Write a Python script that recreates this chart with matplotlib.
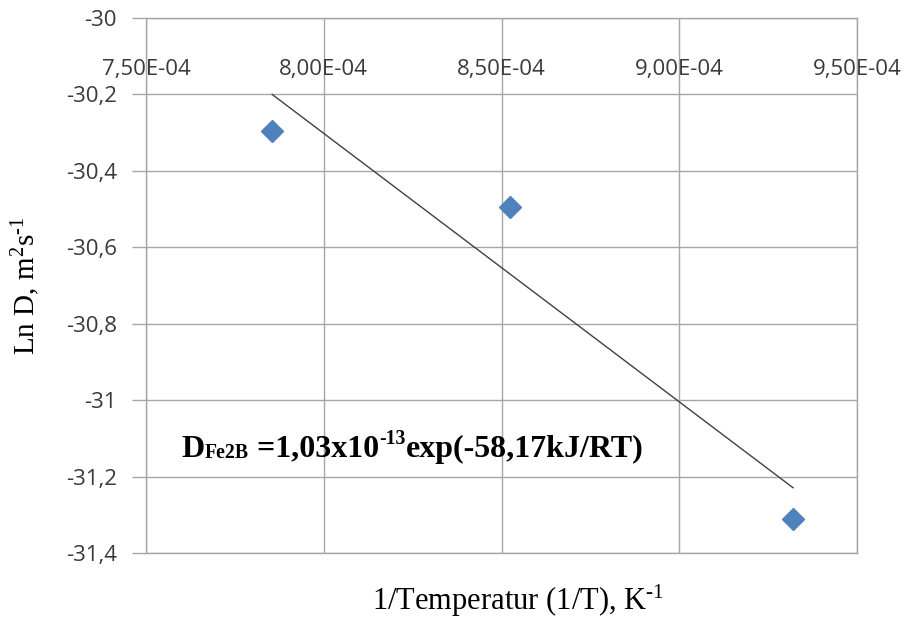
import numpy as np
import matplotlib
matplotlib.use("Agg")
import matplotlib.pyplot as plt
from matplotlib.ticker import FuncFormatter
from matplotlib.transforms import offset_copy

# data
inv_T = [7.855e-4, 8.525e-4, 9.320e-4]
ln_D = [-30.296, -30.494, -31.31]
x_ticks = [7.5e-4, 8.0e-4, 8.5e-4, 9.0e-4, 9.5e-4]
y_ticks = [-30.0, -30.2, -30.4, -30.6, -30.8, -31.0, -31.2, -31.4]
# annotation pieces: (text, relative size, baseline shift in points)
annot_parts = [("D", 1.0, 0), ("Fe2B", 0.62, -1), (" =1,03x10", 1.0, 0),
               ("-13", 0.62, 9), ("exp(-58,17kJ/RT)", 1.0, 0)]

plt.rcParams["mathtext.fontset"] = "custom"
plt.rcParams["mathtext.rm"] = "Liberation Serif"
plt.rcParams["mathtext.it"] = "Liberation Serif:italic"
plt.rcParams["mathtext.bf"] = "Liberation Serif:bold"

fig = plt.figure(figsize=(9.12, 6.22), dpi=100)
ax = fig.add_axes([146/912, 1-553/622, (857-146)/912, (553-18)/622])

grid_c = "#A6A6A6"
ax.set_xlim(7.5e-4, 9.5e-4)
ax.set_ylim(-31.4, -30.0)
ax.set_xticks(x_ticks)
ax.set_yticks(y_ticks)
ax.grid(True, color=grid_c, lw=1.0)
ax.set_axisbelow(True)
for s in ax.spines.values():
    s.set_color(grid_c)
    s.set_linewidth(1.0)

# fit line
coef = np.polyfit(inv_T, ln_D, 1)
xf = np.array([min(inv_T), max(inv_T)])
ax.plot(xf, np.polyval(coef, xf), color="#404040", lw=1.0, zorder=3)
ax.plot(inv_T, ln_D, linestyle="none", marker="D", markersize=11.5,
        color="#4F81BD", zorder=4)

tick_font = ["Open Sans", "DejaVu Sans"]
ax.yaxis.set_major_formatter(FuncFormatter(
    lambda v, p: ("%g" % round(v, 1)).replace(".", ",")))
ax.xaxis.set_major_formatter(FuncFormatter(
    lambda v, p: ("%.2E" % v).replace(".", ",")))
ax.tick_params(axis="y", length=10, width=1.0, color=grid_c, labelsize=16,
               labelcolor="#3A3A3A", pad=11)
ax.tick_params(axis="x", bottom=False, top=False, labelbottom=False,
               labeltop=True, labelsize=16, labelcolor="#3A3A3A", pad=-48)
for lab in ax.get_xticklabels() + ax.get_yticklabels():
    lab.set_family(tick_font)

ax.set_ylabel("Ln D, m$^{2}$s$^{\u20101}$", family="Liberation Serif",
              fontsize=21, labelpad=17)
fig.text(518/912, 1-601/622, "1/Temperatur (1/T), K$^{\u20101}$",
         family="Liberation Serif", fontsize=22, ha="center", va="center")

# annotation built from pieces laid side by side on a common baseline
base = 23
renderer = fig.canvas.get_renderer()
x_off = 0.0
for txt, rel, shift in annot_parts:
    tr = offset_copy(ax.transData, fig=fig, x=x_off, y=shift, units="points")
    t = ax.text(7.601e-4, -31.148, txt, transform=tr,
                family="Liberation Serif", fontweight="bold",
                fontsize=base*rel, va="baseline", ha="left", zorder=5)
    w = t.get_window_extent(renderer).width * 72.0 / fig.dpi
    x_off += w

fig.savefig("out.png", dpi=100)
